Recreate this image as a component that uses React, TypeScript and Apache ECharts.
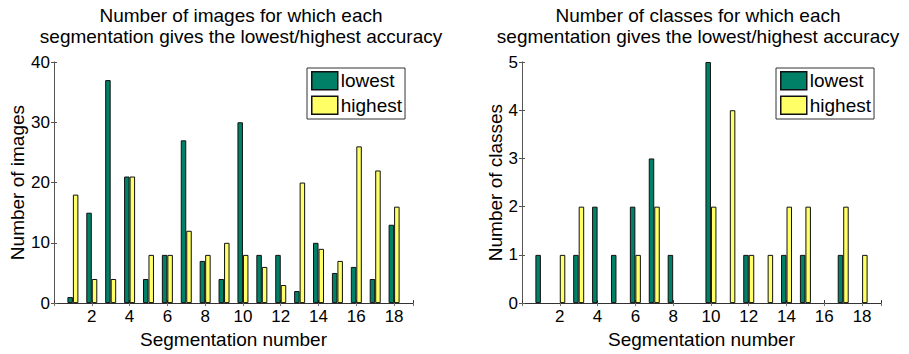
import React, { useEffect, useRef } from "react";
import * as echarts from "echarts";

const segments = [1, 2, 3, 4, 5, 6, 7, 8, 9, 10, 11, 12, 13, 14, 15, 16, 17, 18];
const imagesLowest = [1, 15, 37, 21, 4, 8, 27, 7, 4, 30, 8, 8, 2, 10, 5, 6, 4, 13];
const imagesHighest = [18, 4, 4, 21, 8, 8, 12, 8, 10, 8, 6, 3, 20, 9, 7, 26, 22, 16];
const classesLowest = [1, 0, 1, 2, 1, 2, 3, 1, 0, 5, 0, 1, 0, 1, 1, 0, 1, 0];
const classesHighest = [0, 1, 2, 0, 0, 1, 2, 0, 0, 2, 4, 1, 1, 2, 2, 0, 2, 1];
const seriesNames = ["lowest", "highest"];
const titles = [
  "Number of images for which each\nsegmentation gives the lowest/highest accuracy",
  "Number of classes for which each\nsegmentation gives the lowest/highest accuracy",
];
const yNames = ["Number of images", "Number of classes"];
const xName = "Segmentation number";
const yMax = [40, 5];
const yInterval = [10, 1];

const FONT = "'Liberation Sans', Arial, Helvetica, sans-serif";
const GREEN = "#008066";
const YELLOW = "#FFFF66";

export default function App() {
  const ref = useRef<HTMLDivElement>(null);
  useEffect(() => {
    if (!ref.current) return;
    const chart = echarts.init(ref.current, undefined, { renderer: "svg" });
    const grids = [
      { left: 54, top: 62, width: 359, height: 249 },
      { left: 522, top: 62, width: 359, height: 249 },
    ];
    const pair = (vals: number[]) =>
      segments.map((s, i) => [s, vals[i] === 0 ? "-" : vals[i]]);
    const xAxes: any[] = [];
    const yAxes: any[] = [];
    const series: any[] = [];
    [0, 1].forEach((g) => {
      xAxes.push({
        type: "value",
        gridIndex: g,
        min: 0,
        max: 19,
        interval: 2,
        name: xName,
        nameLocation: "middle",
        nameGap: 22,
        nameTextStyle: { fontFamily: FONT, fontSize: 19, color: "#000" },
        axisLine: { show: true, lineStyle: { color: "#333", width: 1 } },
        axisTick: { show: true, inside: true, length: 3, lineStyle: { color: "#333" } },
        axisLabel: {
          fontFamily: FONT,
          fontSize: 17,
          color: "#000",
          margin: 5,
          formatter: (v: number) => (v === 0 || v === 19 ? "" : String(v)),
        },
        splitLine: { show: false },
      });
      xAxes.push({
        type: "value",
        gridIndex: g,
        position: "top",
        min: 0,
        max: 19,
        interval: 2,
        axisLine: { show: false },
        axisTick: { show: true, inside: true, length: 3, lineStyle: { color: "#777" } },
        axisLabel: { show: false },
        splitLine: { show: false },
      });
      yAxes.push({
        type: "value",
        gridIndex: g,
        min: 0,
        max: yMax[g],
        interval: yInterval[g],
        name: yNames[g],
        nameLocation: "middle",
        nameGap: g === 0 ? 25 : 16,
        nameTextStyle: { fontFamily: FONT, fontSize: 19, color: "#000" },
        axisLine: { show: true, lineStyle: { color: "#888", width: 1 } },
        axisTick: { show: true, inside: true, length: 3, lineStyle: { color: "#555" } },
        axisLabel: { fontFamily: FONT, fontSize: 17, color: "#000", margin: 4 },
        splitLine: { show: false },
      });
      yAxes.push({
        type: "value",
        gridIndex: g,
        position: "right",
        min: 0,
        max: yMax[g],
        interval: yInterval[g],
        axisLine: { show: true, lineStyle: { color: "#555", width: 1 } },
        axisTick: { show: true, inside: true, length: 3, lineStyle: { color: "#555" } },
        axisLabel: { show: false },
        splitLine: { show: false },
      });
      const lows = g === 0 ? imagesLowest : classesLowest;
      const highs = g === 0 ? imagesHighest : classesHighest;
      [lows, highs].forEach((vals, k) => {
        series.push({
          type: "bar",
          name: seriesNames[k],
          xAxisIndex: g * 2,
          yAxisIndex: g * 2,
          data: pair(vals),
          barWidth: 5.5,
          barGap: "0%",
          itemStyle: {
            color: k === 0 ? GREEN : YELLOW,
            borderColor: "#111",
            borderWidth: 1,
          },
        });
      });
    });

    chart.setOption({
      animation: false,
      backgroundColor: "#fff",
      title: [0, 1].map((g) => ({
        text: titles[g],
        left: g === 0 ? 241 : 698,
        top: 5,
        padding: 0,
        textAlign: "center",
        textStyle: {
          fontFamily: FONT,
          fontSize: 19,
          fontWeight: "normal",
          lineHeight: 21,
          color: "#000",
        },
      })),
      legend: [0, 1].map((g) => ({
        orient: "vertical",
        left: g === 0 ? 307 : 776,
        top: 68,
        data: seriesNames,
        itemWidth: 26,
        itemHeight: 18,
        itemGap: 5,
        padding: [3, 3, 4, 4],
        backgroundColor: "#fff",
        borderColor: "#333",
        borderWidth: 1,
        borderRadius: 0,
        selectedMode: false,
        icon: "rect",
        itemStyle: { borderColor: "#111", borderWidth: 1.5 },
        textStyle: { fontFamily: FONT, fontSize: 19, color: "#000", padding: [0, 0, 0, -2] },
      })),
      grid: grids,
      xAxis: xAxes,
      yAxis: yAxes,
      series,
    });
    return () => chart.dispose();
  }, []);
  return (
    <div
      ref={ref}
      style={{ position: "fixed", left: 0, top: 0, width: 909, height: 354 }}
    />
  );
}
